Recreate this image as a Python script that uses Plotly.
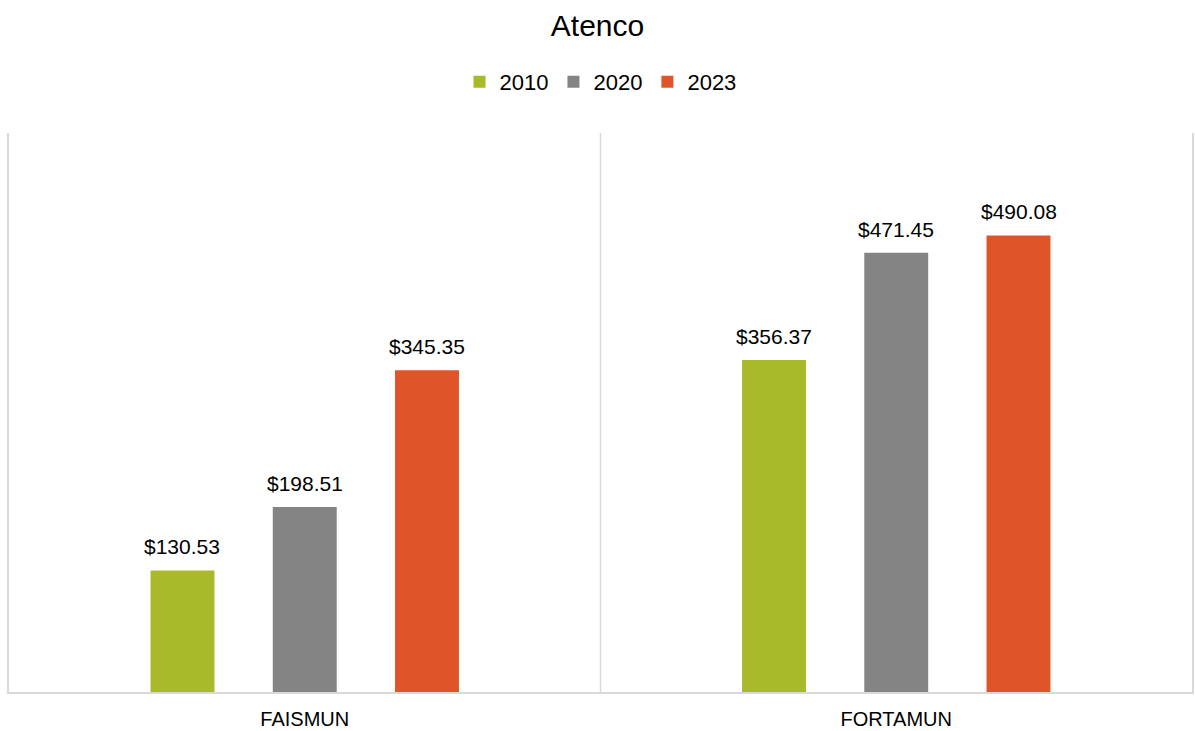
import plotly.graph_objects as go

# datos
fondos = ['FAISMUN', 'FORTAMUN']
anios = ['2010', '2020', '2023']
valores = {
    '2010': [130.53, 356.37],
    '2020': [198.51, 471.45],
    '2023': [345.35, 490.08],
}
colores = {'2010': '#A8B929', '2020': '#848484', '2023': '#E0542A'}

W, H = 1195, 731
ML, MR = 9, 1
BARGAP = 0.38

fig = go.Figure()

for a in anios:
    fig.add_trace(go.Bar(
        x=fondos, y=valores[a], name=a,
        marker=dict(color=colores[a], line=dict(width=0)),
        cliponaxis=False))

# etiquetas de datos encima de cada barra
ancho_cat = (W - ML - MR) / len(fondos)
paso = (1 - BARGAP) / len(anios) * ancho_cat
for i, a in enumerate(anios):
    for f, v in zip(fondos, valores[a]):
        fig.add_annotation(x=f, y=v, text='$' + format(v, '.2f'), showarrow=False,
                           xshift=(i - 1) * paso, yanchor='bottom', yshift=10,
                           font=dict(size=21, color='#000000'))

gris = '#D9D9D9'

fig.add_shape(type='line', xref='x', yref='paper', x0=0.5, x1=0.5, y0=0, y1=1,
              line=dict(color=gris, width=1.5), layer='below')

fig.update_layout(
    width=W, height=H,
    paper_bgcolor='white', plot_bgcolor='white',
    font=dict(family='Liberation Sans, Arial, sans-serif', color='#000000'),
    title=dict(text='Atenco', x=0.5, xanchor='center', yref='container',
               y=1 - 25 / H, yanchor='middle', font=dict(size=30)),
    legend=dict(orientation='h', x=0.5, xanchor='center', yref='container',
                y=1 - 82 / H, yanchor='middle', font=dict(size=22),
                itemwidth=30, traceorder='normal'),
    margin=dict(l=ML, r=MR, t=133, b=38),
    barmode='group', bargap=BARGAP, bargroupgap=0.477,
    xaxis=dict(type='category', range=[-0.5, 1.5], showline=True, linecolor=gris,
               linewidth=1.5, showgrid=False, ticks='', tickfont=dict(size=20),
               ticklabelstandoff=8),
    yaxis=dict(range=[0, 600], showline=True, mirror=True, linecolor=gris,
               linewidth=1.5, showgrid=False, zeroline=False, showticklabels=False,
               ticks=''),
)

# quitar el margen por defecto del body para que no salgan barras de scroll
fig.write_html('out.html', config={'displayModeBar': False},
               post_script="document.body.style.margin='0';")
